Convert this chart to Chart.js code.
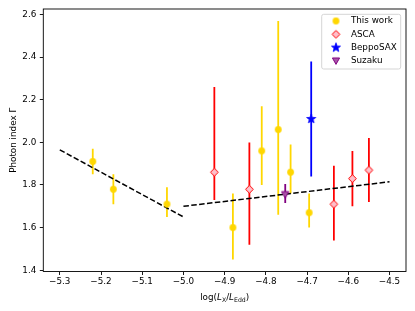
<!DOCTYPE html>
<html>
<head>
<meta charset="utf-8">
<script src="https://cdn.jsdelivr.net/npm/chart.js@4.4.0/dist/chart.umd.min.js"></script>
<style>
  html, body { margin: 0; padding: 0; background: #fff; }
  #wrap { width: 415px; height: 311px; position: relative; }
</style>
</head>
<body>
<div id="wrap"><canvas id="gammaChart"></canvas></div>
<script>
// This work
const workX = [-5.22, -5.17, -5.04, -4.88, -4.81, -4.77, -4.74, -4.695];
const workY = [1.91, 1.78, 1.71, 1.60, 1.96, 2.06, 1.86, 1.67];
const workErrUp = [0.06, 0.07, 0.08, 0.16, 0.21, 0.51, 0.13, 0.09];
const workErrDown = [0.06, 0.07, 0.06, 0.15, 0.16, 0.40, 0.10, 0.07];

// ASCA
const ascaX = [-4.925, -4.84, -4.635, -4.59, -4.55];
const ascaY = [1.86, 1.78, 1.71, 1.83, 1.87];
const ascaErrUp = [0.40, 0.22, 0.18, 0.13, 0.15];
const ascaErrDown = [0.13, 0.26, 0.17, 0.13, 0.15];

// BeppoSAX
const saxX = [-4.69];
const saxY = [2.11];
const saxErrUp = [0.27];
const saxErrDown = [0.27];

// Suzaku
const suzakuX = [-4.753];
const suzakuY = [1.755];
const suzakuErrUp = [0.05];
const suzakuErrDown = [0.04];

// dashed fits
const fitLowX = [-5.3, -5.0];
const fitLowY = [1.965, 1.65];
const fitHighX = [-5.0, -4.5];
const fitHighY = [1.70, 1.815];

// axes
const xTicks = [-5.3, -5.2, -5.1, -5.0, -4.9, -4.8, -4.7, -4.6, -4.5];
const yTicks = [1.4, 1.6, 1.8, 2.0, 2.2, 2.4, 2.6];
const xRange = [-5.34, -4.46];
const yRange = [1.394, 2.626];

const FONT = "DejaVu Sans";
const FS = 8.8;

Chart.defaults.font.family = FONT;
Chart.defaults.font.size = FS;
Chart.defaults.color = "#000";

function makeMarker(size, draw) {
  const c = document.createElement("canvas");
  c.width = size;
  c.height = size;
  draw(c.getContext("2d"), size / 2);
  return c;
}

const circleMark = makeMarker(9, (ctx, m) => {
  ctx.beginPath();
  ctx.arc(m, m, 3.4, 0, Math.PI * 2);
  ctx.fillStyle = "#ffd700";
  ctx.fill();
});

const diamondMark = makeMarker(11, (ctx, m) => {
  const r = 3.9;
  ctx.beginPath();
  ctx.moveTo(m, m - r);
  ctx.lineTo(m + r, m);
  ctx.lineTo(m, m + r);
  ctx.lineTo(m - r, m);
  ctx.closePath();
  ctx.fillStyle = "#ffc0cb";
  ctx.fill();
  ctx.strokeStyle = "#ff0000";
  ctx.lineWidth = 1;
  ctx.stroke();
});

const starMark = makeMarker(12, (ctx, m) => {
  ctx.beginPath();
  for (let i = 0; i < 10; i++) {
    const r = i % 2 === 0 ? 4.8 : 2.0;
    const a = -Math.PI / 2 + (i * Math.PI) / 5;
    ctx.lineTo(m + r * Math.cos(a), m + r * Math.sin(a));
  }
  ctx.closePath();
  ctx.fillStyle = "#0000ff";
  ctx.fill();
  ctx.strokeStyle = "#0000ff";
  ctx.lineWidth = 0.8;
  ctx.stroke();
});

const triMark = makeMarker(10, (ctx, m) => {
  ctx.beginPath();
  ctx.moveTo(m - 3.6, m - 3);
  ctx.lineTo(m + 3.6, m - 3);
  ctx.lineTo(m, m + 3.4);
  ctx.closePath();
  ctx.fillStyle = "#a855a8";
  ctx.fill();
  ctx.strokeStyle = "#800080";
  ctx.lineWidth = 1;
  ctx.stroke();
});

function pts(xs, ys) {
  return xs.map((x, i) => ({ x: x, y: ys[i] }));
}

function errSegments(xs, ys, up, down) {
  const out = [];
  xs.forEach((x, i) => {
    out.push({ x: x, y: ys[i] - down[i] }, { x: x, y: ys[i] + up[i] }, { x: x, y: null });
  });
  return out;
}

function markerSet(label, xs, ys, img) {
  return {
    label: label,
    data: pts(xs, ys),
    pointStyle: img,
    pointRadius: 4,
    showLine: false,
  };
}

function errSet(xs, ys, up, down, color) {
  return {
    data: errSegments(xs, ys, up, down),
    showLine: true,
    spanGaps: false,
    borderColor: color,
    borderWidth: 1.8,
    pointRadius: 0,
  };
}

function fitSet(xs, ys) {
  return {
    data: pts(xs, ys),
    showLine: true,
    borderColor: "#000",
    borderWidth: 1.5,
    borderDash: [5.5, 2.4],
    pointRadius: 0,
  };
}

const fmtX = (v) => (v < 0 ? "\u2212" : "") + Math.abs(v).toFixed(1);

const xTitleParts = [
  { text: "log(" },
  { text: "L", italic: true },
  { text: "X", sub: true },
  { text: "/" },
  { text: "L", italic: true },
  { text: "Edd", sub: true },
  { text: ")" },
];

const framePlugin = {
  id: "framePlugin",
  afterLayout(chart) {
    const a = chart.chartArea;
    chart.legend.left = a.right - 85;
    chart.legend.top = a.top + 3.1;
  },
  beforeDraw(chart) {
    const { ctx, chartArea: a } = chart;
    ctx.save();
    ctx.beginPath();
    if (ctx.roundRect) ctx.roundRect(a.right - 84.3, a.top + 5.3, 79, 54.7, 2);
    else ctx.rect(a.right - 84.3, a.top + 5.3, 79, 54.7);
    ctx.fillStyle = "#fff";
    ctx.fill();
    ctx.strokeStyle = "#d5d5d5";
    ctx.lineWidth = 1;
    ctx.stroke();
    ctx.restore();
  },
  afterDraw(chart) {
    const { ctx, chartArea: a } = chart;
    ctx.save();
    ctx.strokeStyle = "#000";
    ctx.lineWidth = 0.9;
    ctx.strokeRect(a.left, a.top, a.right - a.left, a.bottom - a.top);

    // x axis title with italic L and subscripts
    const fontOf = (p) =>
      (p.italic ? "italic " : "") + (p.sub ? FS * 0.7 : FS) + "px '" + FONT + "'";
    let total = 0;
    xTitleParts.forEach((p) => {
      ctx.font = fontOf(p);
      total += ctx.measureText(p.text).width;
    });
    let x = (a.left + a.right) / 2 - total / 2;
    const base = a.bottom + 28.5;
    ctx.fillStyle = "#000";
    ctx.textBaseline = "alphabetic";
    ctx.textAlign = "left";
    xTitleParts.forEach((p) => {
      ctx.font = fontOf(p);
      ctx.fillText(p.text, x, p.sub ? base + 1.8 : base);
      x += ctx.measureText(p.text).width;
    });
    ctx.restore();
  },
};

const ctx = document.getElementById("gammaChart").getContext("2d");
const gammaChart = new Chart(ctx, {
  type: "scatter",
  data: {
    datasets: [
      markerSet("This work", workX, workY, circleMark),
      markerSet("ASCA", ascaX, ascaY, diamondMark),
      markerSet("BeppoSAX", saxX, saxY, starMark),
      markerSet("Suzaku", suzakuX, suzakuY, triMark),
      fitSet(fitLowX, fitLowY),
      fitSet(fitHighX, fitHighY),
      errSet(workX, workY, workErrUp, workErrDown, "#ffd700"),
      errSet(ascaX, ascaY, ascaErrUp, ascaErrDown, "#ff0000"),
      errSet(saxX, saxY, saxErrUp, saxErrDown, "#0000ff"),
      errSet(suzakuX, suzakuY, suzakuErrUp, suzakuErrDown, "#800080"),
    ],
  },
  options: {
    responsive: true,
    maintainAspectRatio: false,
    animation: false,
    layout: { padding: { top: 9, right: 9, left: 0, bottom: 0 } },
    plugins: {
      tooltip: { enabled: false },
      legend: {
        position: "chartArea",
        align: "start",
        labels: {
          usePointStyle: true,
          pointStyleWidth: 21,
          boxHeight: 8,
          padding: 4.5,
          color: "#000",
          font: { size: FS },
          filter: (item) => item.datasetIndex < 4,
        },
      },
    },
    scales: {
      x: {
        type: "linear",
        min: xRange[0],
        max: xRange[1],
        afterBuildTicks: (s) => {
          s.ticks = xTicks.map((v) => ({ value: v }));
        },
        afterFit: (s) => {
          s.height = 39.5;
        },
        border: { display: false },
        grid: {
          display: true,
          drawOnChartArea: false,
          drawTicks: true,
          tickLength: 3.5,
          color: "#000",
          lineWidth: 0.9,
        },
        ticks: {
          padding: 1,
          maxRotation: 0,
          autoSkip: false,
          callback: fmtX,
        },
      },
      y: {
        type: "linear",
        min: yRange[0],
        max: yRange[1],
        afterBuildTicks: (s) => {
          s.ticks = yTicks.map((v) => ({ value: v }));
        },
        afterFit: (s) => {
          s.width = 43.3;
        },
        border: { display: false },
        grid: {
          display: true,
          drawOnChartArea: false,
          drawTicks: true,
          tickLength: 3.5,
          color: "#000",
          lineWidth: 0.9,
        },
        ticks: {
          padding: 3.5,
          autoSkip: false,
          callback: (v) => v.toFixed(1),
        },
        title: {
          display: true,
          text: "Photon index \u0393",
          padding: { top: 8, bottom: 0 },
          font: { size: FS },
        },
      },
    },
  },
  plugins: [framePlugin],
});
</script>
</body>
</html>
